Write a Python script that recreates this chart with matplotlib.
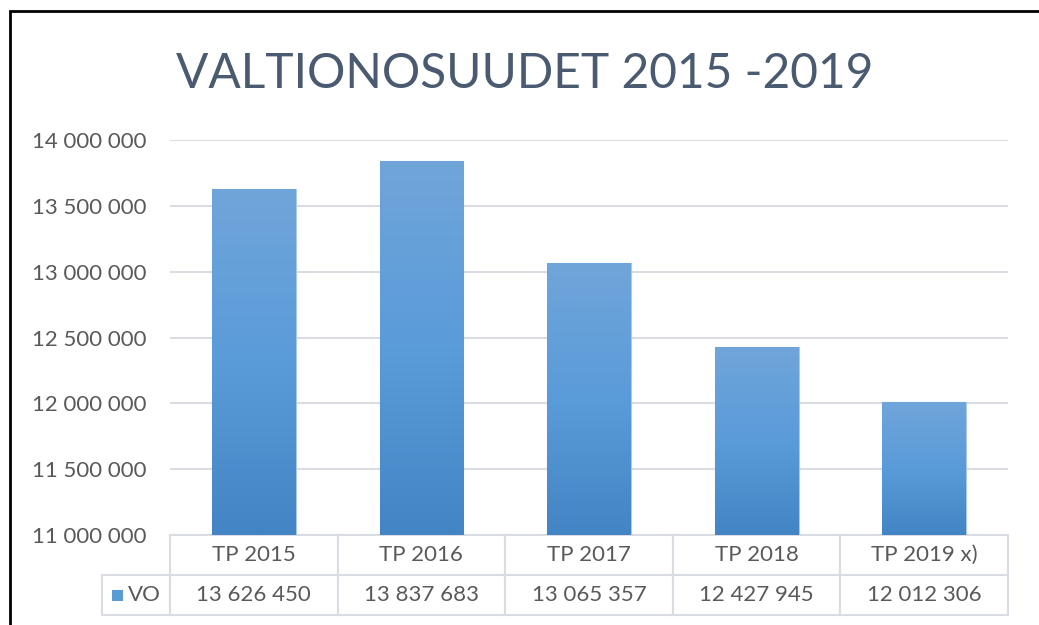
import numpy as np
import matplotlib
matplotlib.use('Agg')
import matplotlib.pyplot as plt
from matplotlib.colors import LinearSegmentedColormap
from matplotlib.patches import Rectangle
from matplotlib.ticker import MultipleLocator, FuncFormatter

categories = ['TP 2015', 'TP 2016', 'TP 2017', 'TP 2018', 'TP 2019 x)']
series_name = 'VO'
values = [13626450, 13837683, 13065357, 12427945, 12012306]
title = 'VALTIONOSUUDET 2015 -2019'

plt.rcParams['font.family'] = ['Lato', 'DejaVu Sans']
text_col = '#595959'
grid_col = '#D9DCE3'

fig = plt.figure(figsize=(10.39, 6.25), dpi=100)
ax = fig.add_axes([170/1039, 90/625, 838/1039, 395/625])

x = np.arange(len(categories))
bars = ax.bar(x, values, width=0.5, color='#5B9BD5', edgecolor='#A9C8EA',
              linewidth=0.8, zorder=2)

# vertical gradient on each bar, like the Excel fill
cmap = LinearSegmentedColormap.from_list('g', ['#4384C4', '#5A9BD9', '#70A5DA'])
grad = np.linspace(0, 1, 256).reshape(-1, 1)
for b in bars:
    x0, y0 = b.get_x(), 11000000
    x1, y1 = x0 + b.get_width(), b.get_height()
    im = ax.imshow(grad, extent=[x0, x1, y0, y1], origin='lower', aspect='auto',
                   cmap=cmap, zorder=2.5)
    im.set_clip_path(b)

ax.set_xlim(-0.5, len(categories) - 0.5)
ax.set_ylim(11000000, 14000000)
ax.yaxis.set_major_locator(MultipleLocator(500000))
ax.yaxis.set_major_formatter(FuncFormatter(lambda v, p: f'{v:,.0f}'.replace(',', ' ')))
ax.tick_params(axis='y', length=0, pad=17, labelsize=16, labelcolor=text_col)
ax.set_xticks([])
ax.grid(axis='y', color=grid_col, linewidth=1.5, zorder=0)
for s in ax.spines.values():
    s.set_visible(False)

# data table under the plot
rows = [categories, [f'{v:,.0f}'.replace(',', ' ') for v in values]]
tb = ax.table(cellText=rows, bbox=[0, -80/395, 1, 80/395], cellLoc='center')
tb.auto_set_font_size(False)
for (r, c), cell in tb.get_celld().items():
    cell.set_edgecolor(grid_col)
    cell.set_linewidth(1.5)
    cell.get_text().set_fontsize(16)
    cell.get_text().set_color(text_col)

# legend cell
lx0 = -68/838
ax.add_patch(Rectangle((lx0, -80/395), -lx0, 40/395, transform=ax.transAxes,
                       facecolor='none', edgecolor=grid_col, linewidth=1.5,
                       clip_on=False))
ax.add_patch(Rectangle((lx0 + 10/838, -66/395), 11/838, 11/395, transform=ax.transAxes,
                       facecolor='#5B9BD5', edgecolor='none', clip_on=False))
ax.text(lx0 + 26/838, -60/395, series_name, transform=ax.transAxes, fontsize=16,
        color=text_col, va='center', ha='left')

fig.text(525/1039, 1 - 74/625, title, ha='center', va='center', fontsize=34.5,
         fontweight='normal', color='#4A5A70')

# chart frame (left and top edge visible)
fig.add_artist(Rectangle((10/1039, -0.5), 1.5, 1.5 - 11/625, transform=fig.transFigure,
                         facecolor='none', edgecolor='black', linewidth=2))

fig.savefig('out.png', dpi=100)
